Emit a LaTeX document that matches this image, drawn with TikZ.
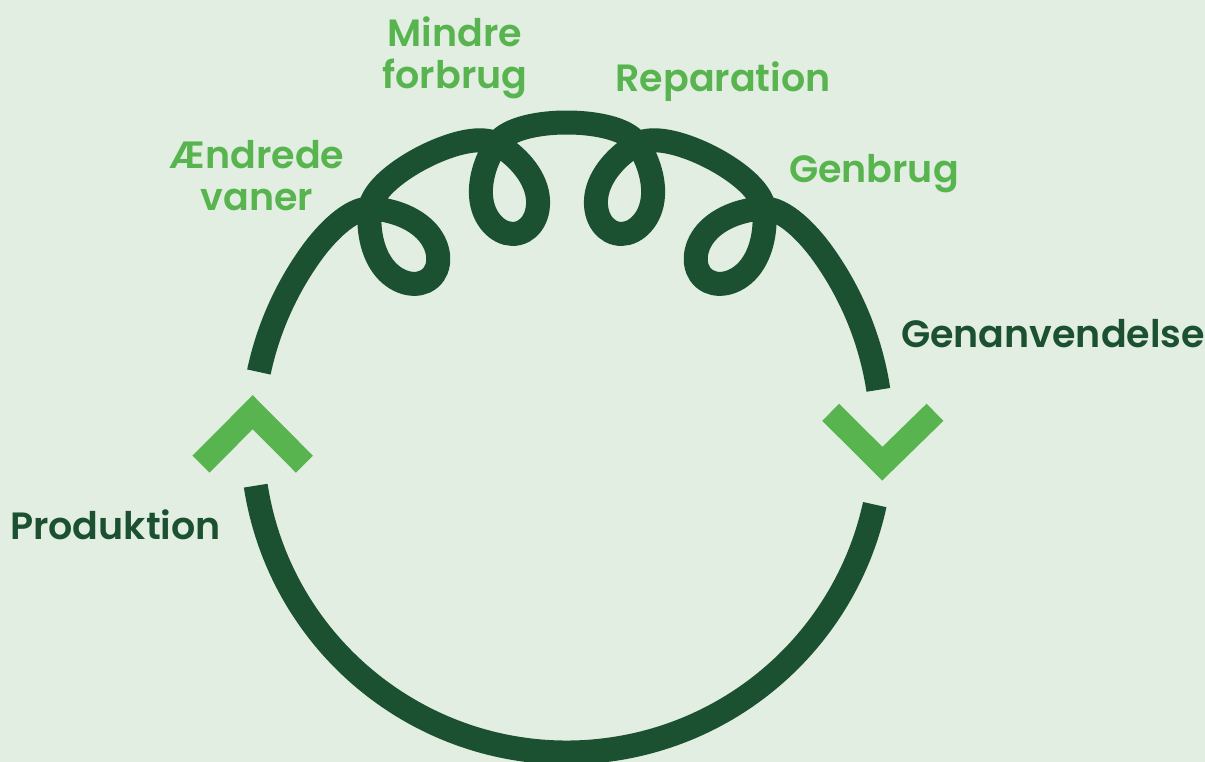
\documentclass[tikz,border=0pt]{standalone}
\usepackage{fontspec}
\setmainfont{Poppins}[BoldFont={Poppins SemiBold}]

\definecolor{cordgreen}{HTML}{1B5130}
\definecolor{leafgreen}{HTML}{58B44E}
\definecolor{paper}{HTML}{E2EEE2}

% one curl of the cord, centred on the angle #1 (walked counterclockwise,
% from #1-13.6 to #1+13.6 on the big circle)
\newcommand{\curl}[1]{%
  .. controls (#1-9.07:316.05) and (#1-2.70:315.75) .. (#1:302)
  .. controls (#1+2.646:290.31) and (#1+5.965:269.46) .. (#1+6.494:247.59)
  .. controls (#1+7.063:227.73) and (#1+4.221:210.57) .. (#1:210)
  .. controls (#1-4.221:210.57) and (#1-7.063:227.73) .. (#1-6.494:247.59)
  .. controls (#1-5.965:269.46) and (#1-2.646:290.31) .. (#1:302)
  .. controls (#1+2.70:315.75) and (#1+9.07:316.05) .. (#1+13.6:315)}

\begin{document}
\begin{tikzpicture}[x=1pt, y=1pt,
    cord/.style={draw=cordgreen, line width=24pt},
    chevron/.style={draw=leafgreen, line width=24pt, miter limit=10},
    cyclelabel/.style={font=\fontsize{38}{42}\selectfont\bfseries, inner sep=0pt, align=center},
    dark/.style={cyclelabel, text=cordgreen},
    light/.style={cyclelabel, text=leafgreen}]

  \fill[paper] (-567,-324.5) rectangle (638,437.5);
  \useasboundingbox (-567,-324.5) rectangle (638,437.5);

  % lower half of the cycle
  \draw[cord] (188.8:315) arc[start angle=188.8, end angle=347.7, radius=315];
  % upper half with the four curls
  \draw[cord] (8.7:315) arc[start angle=8.7, end angle=35.7, radius=315]
    \curl{49.3} \curl{76.5} \curl{103.5} \curl{130.7}
    arc[start angle=144.3, end angle=168, radius=315];

  % direction marks
  \draw[chevron] (-366,-26.7) -- (-314.3,25.3) -- (-262.6,-26.7);
  \draw[chevron] (263.7,25.2) -- (315.3,-26.2) -- (368,25.2);

  % labels
  \node[light, anchor=north] (mindre)     at (-112,420.5) {Mindre\\forbrug};
  \node[light, anchor=base]  (reparation) at (156,345.5)  {Reparation};
  \node[light, anchor=north] (vaner)      at (-310,297.5) {Ændrede\\vaner};
  \node[light, anchor=base]  (genbrug)    at (307,254.5)  {Genbrug};
  \node[dark, anchor=base]   (genanvend)  at (486,89.5)   {Genanvendelse};
  \node[dark, anchor=base]   (produktion) at (-451.5,-102.5) {Produktion};
\end{tikzpicture}
\end{document}
